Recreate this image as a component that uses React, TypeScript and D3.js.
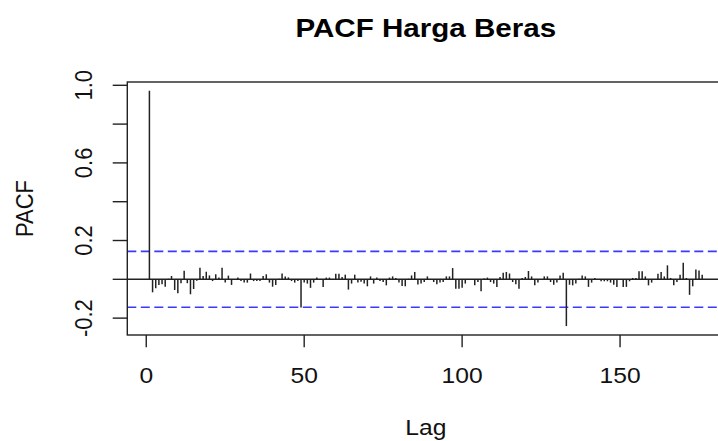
import React, { useEffect, useRef } from "react";
import * as d3 from "d3";

// PACF values for lag 1..176
const pacfValues = [
  0.972, -0.067, -0.046, -0.029, -0.026, -0.038, 0.003, 0.017, -0.055, -0.072,
  -0.02, 0.044, -0.02, -0.077, -0.05, -0.007, 0.06, 0.017, 0.039, 0.02,
  -0.009, 0.026, 0.009, 0.06, -0.017, 0.019, -0.029, -0.003, 0.009, -0.009,
  -0.017, -0.017, 0.03, -0.009, -0.009, -0.009, 0.017, 0.026, -0.017, -0.038,
  -0.029, 0.003, 0.03, 0.014, 0.01, -0.009, -0.017, -0.009, -0.145, -0.017,
  -0.022, -0.044, -0.017, 0.009, -0.003, -0.04, 0.009, 0.009, 0.002, 0.029,
  0.029, 0.012, 0.024, -0.053, -0.022, 0.024, -0.017, -0.012, -0.022, -0.036,
  0.015, -0.022, 0.009, -0.009, -0.014, -0.031, 0.009, 0.015, 0.007, -0.017,
  -0.034, -0.036, 0.003, 0.02, 0.038, -0.027, -0.022, -0.014, 0.015, 0.002,
  -0.014, -0.026, -0.017, -0.014, 0.015, 0.015, 0.058, -0.048, -0.048, -0.043,
  -0.022, 0.002, -0.003, -0.031, -0.014, -0.062, 0.004, 0.009, -0.014, -0.022,
  -0.039, 0.012, 0.034, 0.038, 0.03, -0.014, -0.026, -0.048, 0.007, 0.012,
  0.043, 0.015, -0.031, -0.017, 0.002, 0.015, 0.015, -0.014, -0.028, -0.017,
  0.02, 0.034, -0.241, -0.028, -0.031, -0.022, 0.003, 0.02, 0.015, -0.039,
  -0.017, 0.007, 0.002, -0.01, -0.01, -0.01, -0.017, -0.028, -0.039, 0.002,
  -0.039, -0.039, -0.01, 0.007, 0.007, 0.041, 0.041, 0.015, -0.031, -0.017,
  0.002, 0.029, 0.038, 0.015, 0.072, 0.007, -0.031, -0.014, 0.024, 0.085,
  0.007, -0.08, -0.036, 0.05, 0.046, 0.024,
];
const lags = pacfValues.map((_, i) => i + 1);
const ciLimit = 0.144;
const xTicks = [0, 50, 100, 150];
const yTicks = [-0.2, 0, 0.2, 0.4, 0.6, 0.8, 1.0];
const yTickLabels = ["-0.2", "", "0.2", "", "0.6", "", "1.0"];

const W = 718;
const H = 441;
const SX = 1.12; // the picture is stretched sideways

export default function App() {
  const ref = useRef(null);

  useEffect(() => {
    document.body.style.margin = "0";
    const svg = d3.select(ref.current);
    svg.selectAll("*").remove();

    const left = 127.3;
    const right = 724.3;
    const top = 82;
    const bottom = 335;

    const x = d3.scaleLinear().domain([-6, 183]).range([left, right]);
    const y = d3.scaleLinear().domain([-0.287, 1.017]).range([bottom, top]);

    const font = "Liberation Sans, Arial, sans-serif";
    const ink = "#222";

    // confidence bands
    svg
      .selectAll("line.ci")
      .data([ciLimit, -ciLimit])
      .join("line")
      .attr("x1", left)
      .attr("x2", right)
      .attr("y1", (d) => y(d))
      .attr("y2", (d) => y(d))
      .attr("stroke", "#3a3aff")
      .attr("stroke-width", 1.7)
      .attr("stroke-dasharray", "9,4.5");

    // zero line
    svg
      .append("line")
      .attr("x1", left)
      .attr("x2", right)
      .attr("y1", y(0))
      .attr("y2", y(0))
      .attr("stroke", ink)
      .attr("stroke-width", 1.4);

    // bars
    svg
      .selectAll("line.bar")
      .data(lags)
      .join("line")
      .attr("class", "bar")
      .attr("x1", (d) => x(d))
      .attr("x2", (d) => x(d))
      .attr("y1", y(0))
      .attr("y2", (d, i) => y(pacfValues[i]))
      .attr("stroke", ink)
      .attr("stroke-width", 1.5);

    // box
    svg
      .append("rect")
      .attr("x", left)
      .attr("y", top)
      .attr("width", right - left)
      .attr("height", bottom - top)
      .attr("fill", "none")
      .attr("stroke", ink)
      .attr("stroke-width", 1.4);

    // x axis
    const xg = svg.append("g");
    xg.selectAll("line")
      .data(xTicks)
      .join("line")
      .attr("x1", (d) => x(d))
      .attr("x2", (d) => x(d))
      .attr("y1", bottom)
      .attr("y2", bottom + 12.3)
      .attr("stroke", ink)
      .attr("stroke-width", 1.4);
    xg.selectAll("text")
      .data(xTicks)
      .join("text")
      .attr("transform", (d) => `translate(${x(d)},382.5) scale(${SX},1)`)
      .attr("text-anchor", "middle")
      .attr("font-family", font)
      .attr("font-size", 22)
      .attr("fill", "#111")
      .text((d) => d);

    // y axis
    const yg = svg.append("g");
    yg.selectAll("line")
      .data(yTicks)
      .join("line")
      .attr("x1", left - 14.6)
      .attr("x2", left)
      .attr("y1", (d) => y(d))
      .attr("y2", (d) => y(d))
      .attr("stroke", ink)
      .attr("stroke-width", 1.4);
    yg.selectAll("text")
      .data(yTicks)
      .join("text")
      .attr(
        "transform",
        (d) => `translate(91.5,${y(d)}) scale(${SX},1) rotate(-90)`
      )
      .attr("text-anchor", "middle")
      .attr("font-family", font)
      .attr("font-size", 22)
      .attr("fill", "#111")
      .text((d, i) => yTickLabels[i]);

    // titles
    svg
      .append("text")
      .attr("transform", `translate(${(left + right) / 2},37) scale(${SX},1)`)
      .attr("text-anchor", "middle")
      .attr("font-family", font)
      .attr("font-weight", "bold")
      .attr("font-size", 26.4)
      .attr("fill", "#000")
      .text("PACF Harga Beras");

    svg
      .append("text")
      .attr("transform", `translate(${(left + right) / 2},435) scale(${SX},1)`)
      .attr("text-anchor", "middle")
      .attr("font-family", font)
      .attr("font-size", 22)
      .attr("fill", "#111")
      .text("Lag");

    svg
      .append("text")
      .attr("transform", `translate(33,${(top + bottom) / 2}) scale(${SX},1) rotate(-90)`)
      .attr("text-anchor", "middle")
      .attr("font-family", font)
      .attr("font-size", 22)
      .attr("fill", "#111")
      .text("PACF");
  }, []);

  return (
    <svg
      ref={ref}
      width={W}
      height={H}
      style={{ display: "block", background: "#fff" }}
    ></svg>
  );
}
